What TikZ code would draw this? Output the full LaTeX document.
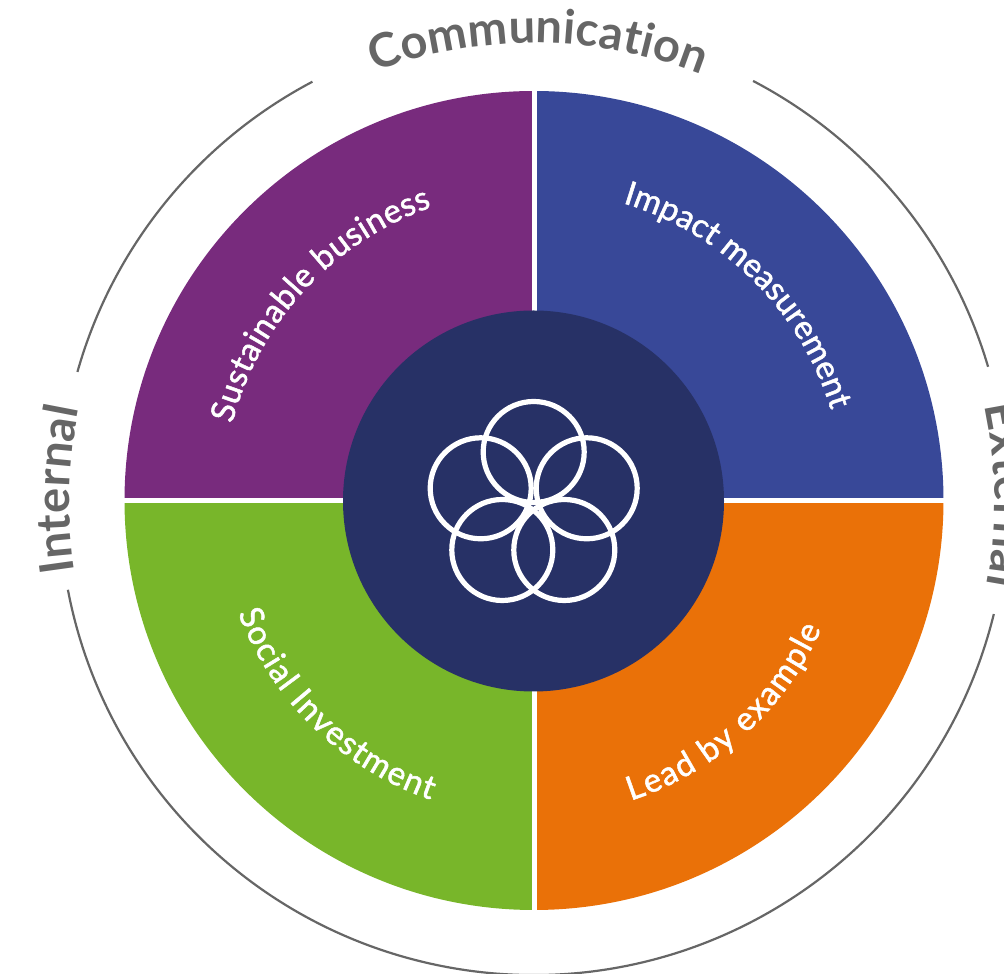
\documentclass[tikz,border=0pt]{standalone}
\usepackage{fontspec}
\newfontfamily\labf{Lato}[RawFeature={embolden=1.5}]
\newfontfamily\ringf{Lato}
\usetikzlibrary{decorations.text}
\definecolor{cpurple}{HTML}{782B7D}
\definecolor{cblue}{HTML}{384898}
\definecolor{cgreen}{HTML}{78B62A}
\definecolor{corange}{HTML}{EA7108}
\definecolor{cnavy}{HTML}{273166}
\definecolor{cgrey}{HTML}{666666}
\tikzset{
  ringarc/.style={draw=cgrey,line width=2.2pt},
  petal/.style={draw=white,line width=5.2pt},
  cut/.style={draw=white,line width=5.5pt},
}
\newcommand{\arclab}[5]{%
  \path[decorate,decoration={text along path,text align={fit to path},
    text={|#4|#5}}]
    (c) ++(#2:#1pt) arc[start angle=#2,end angle=#3,radius=#1pt];}
\newcommand{\sectfmt}{\labf\fontsize{33}{33}\selectfont\color{white}}
\newcommand{\ringfmt}{\ringf\bfseries\fontsize{47}{47}\selectfont\color{cgrey}}
\begin{document}
\begin{tikzpicture}[x=1pt,y=1pt]
\useasboundingbox (0,0) rectangle (1004,974);
\coordinate (c) at (533.5,473);
\coordinate (o) at (534,473.5);
\fill[cpurple] (o) -- ++(180:409.5) arc[start angle=180,end angle=90,radius=409.5] -- cycle;
\fill[cblue] (o) -- ++(90:409.5) arc[start angle=90,end angle=0,radius=409.5] -- cycle;
\fill[corange] (o) -- ++(0:409.5) arc[start angle=0,end angle=-90,radius=409.5] -- cycle;
\fill[cgreen] (o) -- ++(-90:409.5) arc[start angle=-90,end angle=-180,radius=409.5] -- cycle;
\coordinate (t) at (534.7,890);\coordinate (b) at (534.7,58);
\coordinate (l) at (118,473.5);\coordinate (r) at (950,473.5);
\draw[cut] (t) -- (b);
\draw[cut] (l) -- (r);
\node[circle,fill=cnavy,minimum size=381pt,inner sep=0pt] (hub) at (533.5,473) {};
\foreach \px/\py/\n in {533.7/522/pa,480.7/485.7/pb,586.7/485.7/pc,502.3/424/pd,564.3/424/pe}
  \node[circle,petal,minimum size=101pt,inner sep=0pt] (\n) at (\px,\py) {};
\draw[ringarc] (c) ++(117.8:474pt) arc[start angle=117.8,end angle=164.2,radius=474pt];
\draw[ringarc] (c) ++(62.4:474pt) arc[start angle=62.4,end angle=16.45,radius=474pt];
\draw[ringarc] (c) ++(-13.8:474pt) arc[start angle=-13.8,end angle=-169.2,radius=474pt];
\arclab{311}{165.6}{109.1}{\sectfmt}{Sustainable business}
\arclab{311}{73.3}{17}{\sectfmt}{Impact measurement}
\arclab{315}{-72}{-24}{\sectfmt}{Lead by example}
\arclab{316}{200.8}{251}{\sectfmt}{Social Investment}
\arclab{458}{110.3}{68.5}{\ringfmt}{Communication}
\arclab{464}{188.8}{168.4}{\ringfmt}{Internal}
\arclab{461}{12}{-10.5}{\ringfmt}{External}
\end{tikzpicture}
\end{document}
